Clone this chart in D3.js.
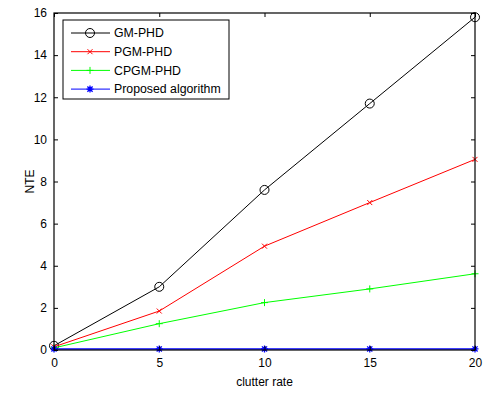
<!DOCTYPE html>
<html>
<head>
<meta charset="utf-8">
<script src="https://cdn.jsdelivr.net/npm/d3@7"></script>
<style>
  body { margin: 0; background: #fff; }
  text { font-family: Arial, "Liberation Sans", sans-serif; }
</style>
</head>
<body>
<svg id="chart" width="483" height="398"></svg>
<script>
// data
const clutterRate = [0, 5, 10, 15, 20];
const gmPhd = [0.2, 3.0, 7.6, 11.7, 15.8];
const pgmPhd = [0.15, 1.85, 4.93, 7.0, 9.05];
const cpgmPhd = [0.1, 1.25, 2.25, 2.9, 3.62];
const proposed = [0.05, 0.05, 0.05, 0.05, 0.05];
const xTicks = [0, 5, 10, 15, 20];
const yTicks = [0, 2, 4, 6, 8, 10, 12, 14, 16];

const series = [
  { name: "GM-PHD", values: gmPhd, color: "#000000", marker: "circle" },
  { name: "PGM-PHD", values: pgmPhd, color: "#ff0000", marker: "x" },
  { name: "CPGM-PHD", values: cpgmPhd, color: "#00ff00", marker: "plus" },
  { name: "Proposed algorithm", values: proposed, color: "#0000ff", marker: "star" }
];

const margin = { top: 13, right: 8, bottom: 48, left: 54 };
const width = 483 - margin.left - margin.right,
  height = 398 - margin.top - margin.bottom;

const svg = d3.select("#chart");
const g = svg.append("g")
  .attr("transform", "translate(" + margin.left + "," + margin.top + ")");

const x = d3.scaleLinear().domain([0, 20]).range([0, width]);
const y = d3.scaleLinear().domain([0, 16]).range([height, 0]);

// draw a marker at (px, py)
function marker(sel, type, px, py, color) {
  const s = 3.5;
  if (type === "circle") {
    sel.append("circle").attr("cx", px).attr("cy", py).attr("r", 4.5)
      .attr("fill", "none").attr("stroke", color).attr("stroke-width", 1);
  } else if (type === "x") {
    sel.append("path")
      .attr("d", `M${px - 2.5},${py - 2.5}L${px + 2.5},${py + 2.5}M${px - 2.5},${py + 2.5}L${px + 2.5},${py - 2.5}`)
      .attr("stroke", color).attr("stroke-width", 1);
  } else if (type === "plus") {
    sel.append("path")
      .attr("d", `M${px - s},${py}L${px + s},${py}M${px},${py - s}L${px},${py + s}`)
      .attr("stroke", color).attr("stroke-width", 1);
  } else if (type === "star") {
    const d = 2.6;
    sel.append("path")
      .attr("d", `M${px - s},${py}L${px + s},${py}M${px},${py - s}L${px},${py + s}` +
        `M${px - d},${py - d}L${px + d},${py + d}M${px - d},${py + d}L${px + d},${py - d}`)
      .attr("stroke", color).attr("stroke-width", 1.3);
  }
}

// series lines and markers
const line = d3.line().x((d, i) => x(clutterRate[i])).y(d => y(d));
series.forEach(function (s) {
  g.append("path")
    .datum(s.values)
    .attr("fill", "none")
    .attr("stroke", s.color)
    .attr("stroke-width", s.marker === "star" ? 1.5 : 1)
    .attr("d", line);
  s.values.forEach(function (v, i) {
    marker(g, s.marker, x(clutterRate[i]), y(v), s.color);
  });
});

// axes: ticks pointing inward, on all four sides
const tickLen = 4;
g.append("g")
  .attr("transform", "translate(0," + height + ")")
  .call(d3.axisBottom(x).tickValues(xTicks).tickSizeInner(-tickLen).tickSizeOuter(0).tickPadding(8));
g.append("g")
  .call(d3.axisTop(x).tickValues(xTicks).tickSizeInner(-tickLen).tickSizeOuter(0).tickFormat(""));
g.append("g")
  .call(d3.axisLeft(y).tickValues(yTicks).tickSizeInner(-tickLen).tickSizeOuter(0).tickPadding(7));
g.append("g")
  .attr("transform", "translate(" + width + ",0)")
  .call(d3.axisRight(y).tickValues(yTicks).tickSizeInner(-tickLen).tickSizeOuter(0).tickFormat(""));

g.selectAll(".domain").remove();
g.selectAll(".tick text").attr("font-size", 12).attr("fill", "#000");
g.selectAll(".tick line").attr("stroke", "#000");

// frame
g.append("rect")
  .attr("width", width).attr("height", height)
  .attr("fill", "none").attr("stroke", "#000").attr("stroke-width", 1.2);

// axis labels
svg.append("text")
  .attr("x", margin.left + width / 2)
  .attr("y", 386)
  .attr("text-anchor", "middle")
  .attr("font-size", 12)
  .text("clutter rate");
svg.append("text")
  .attr("transform", "translate(34," + (margin.top + height / 2) + ") rotate(-90)")
  .attr("text-anchor", "middle")
  .attr("font-size", 12)
  .text("NTE");

// legend
const lg = svg.append("g").attr("transform", "translate(63,20)");
lg.append("rect").attr("width", 166).attr("height", 79)
  .attr("fill", "#fff").attr("stroke", "#000").attr("stroke-width", 1);
series.forEach(function (s, i) {
  const ly = 13 + i * 18.7;
  lg.append("line").attr("x1", 8).attr("x2", 47).attr("y1", ly).attr("y2", ly)
    .attr("stroke", s.color).attr("stroke-width", 1);
  marker(lg, s.marker, 27, ly, s.color);
  lg.append("text").attr("x", 51).attr("y", ly + 4.3)
    .attr("font-size", 12.3).text(s.name);
});
</script>
</body>
</html>
